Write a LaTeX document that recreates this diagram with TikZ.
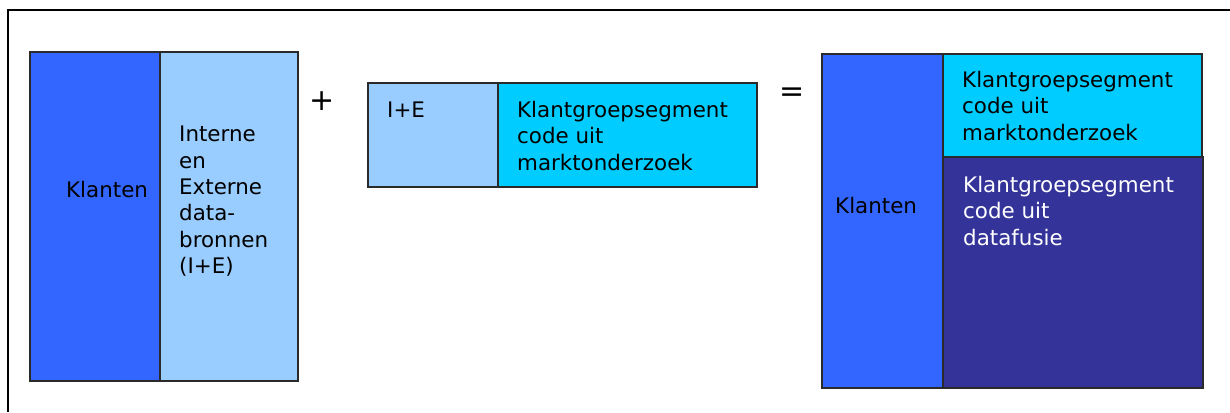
\documentclass[tikz,border=0pt]{standalone}
\usepackage{fontspec}
\setmainfont{DejaVu Sans}
\usepackage{tikz}
\usetikzlibrary{positioning}
\definecolor{KlantBlue}{HTML}{3366FF}
\definecolor{BronBlue}{HTML}{99CCFF}
\definecolor{SegCyan}{HTML}{00CCFF}
\definecolor{FusieBlue}{HTML}{333399}
\definecolor{EdgeGray}{HTML}{2A2A2A}
\tikzset{
  seg/box/.style={draw=EdgeGray, line width=1.4pt, anchor=north west, inner sep=0pt, outer sep=0pt},
  seg/text/.style={anchor=north west, inner sep=0pt, align=left, font=\fontsize{21.4}{26.3}\selectfont},
  seg/op/.style={inner sep=0pt, font=\fontsize{30}{30}\selectfont},
  seg/frame/.style={line width=2pt, black}
}

\begin{document}
\begin{tikzpicture}[x=1pt, y=-1pt]
\useasboundingbox (0,0) rectangle (1230,412);
\coordinate (frameTL) at (8,10);
\draw[seg/frame] (8,412) -- (frameTL) -- (1230,10);
% klanten + bronnen
\node[seg/box, fill=KlantBlue, minimum width=130pt, minimum height=329pt] (klant1) at (30,52) {};
\node[seg/box, fill=BronBlue, minimum width=138pt, minimum height=329pt] (bron1) at (klant1.north east) {};
\node[seg/text, below right=129pt and 36pt of klant1.north west] (klant1txt) {Klanten};
\node[seg/text, below right=74pt and 19pt of bron1.north west] (bron1txt) {Interne\\en\\Externe\\data-\\bronnen\\(I+E)};
\node[seg/op] (plus) at (322,101) {+};
% I+E met marktonderzoek
\node[seg/box, fill=BronBlue, minimum width=130pt, minimum height=104pt] (ie2) at (368,83) {};
\node[seg/box, fill=SegCyan, minimum width=259pt, minimum height=104pt] (seg2) at (ie2.north east) {};
\node[seg/text, below right=19pt and 19pt of ie2.north west] (ie2txt) {I+E};
\node[seg/text, below right=18pt and 19pt of seg2.north west] (seg2txt) {Klantgroepsegment\\code uit\\marktonderzoek};
\node[seg/op] (equals) at (792,95) {=};
% resultaat
\node[seg/box, fill=KlantBlue, minimum width=121pt, minimum height=334pt] (klant3) at (822,54) {};
\node[seg/box, fill=SegCyan, minimum width=259pt, minimum height=103pt] (seg3) at (klant3.north east) {};
\node[seg/box, fill=FusieBlue, minimum width=260pt, minimum height=231pt] (fusie3) at (seg3.south west) {};
\node[seg/text, below right=143pt and 13pt of klant3.north west] (klant3txt) {Klanten};
\node[seg/text, below right=17pt and 19pt of seg3.north west] (seg3txt) {Klantgroepsegment\\code uit\\marktonderzoek};
\node[seg/text, text=white, below right=19pt and 20pt of fusie3.north west] (fusie3txt) {Klantgroepsegment\\code uit\\datafusie};
\end{tikzpicture}
\end{document}
